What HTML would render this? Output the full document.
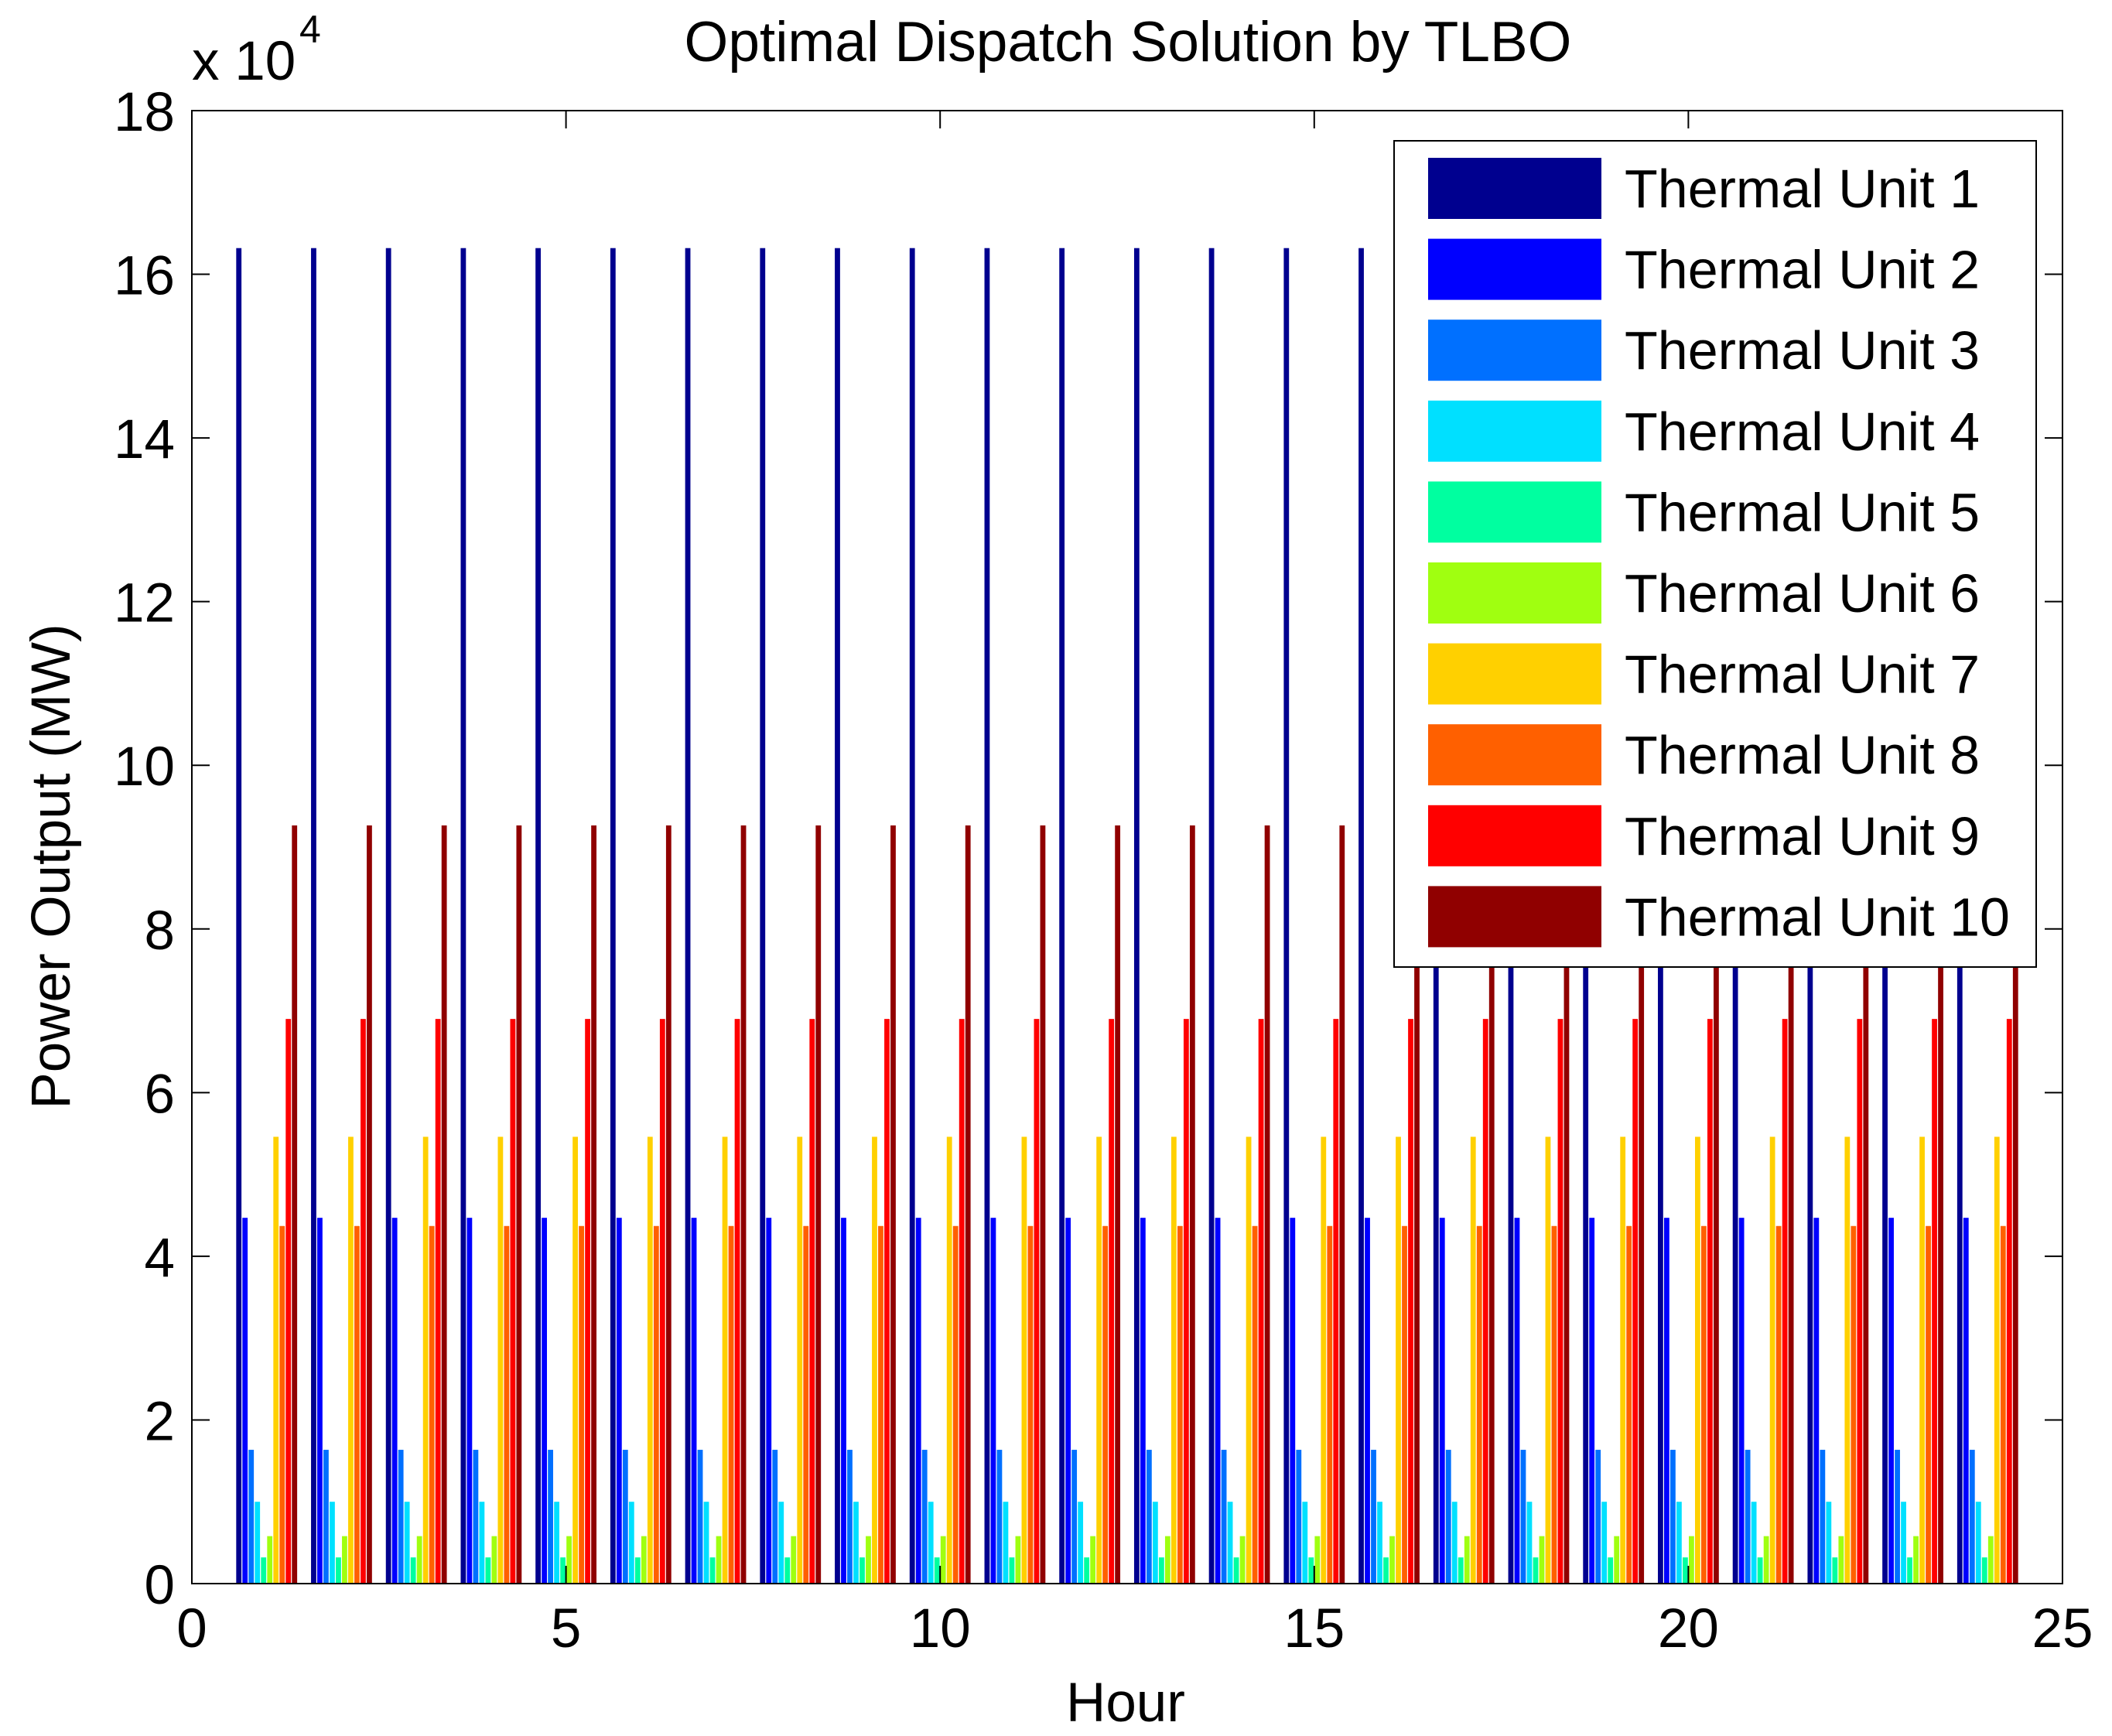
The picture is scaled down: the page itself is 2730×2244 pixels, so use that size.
<!DOCTYPE html>
<html><head><meta charset="utf-8"><style>
html,body{margin:0;padding:0;background:#fff;}
svg{display:block;font-family:"Liberation Sans",Arial,sans-serif;}
</style></head><body>
<svg id="chart" width="2730" height="2244" viewBox="0 0 2730 2244" xmlns="http://www.w3.org/2000/svg">
<rect width="2730" height="2244" fill="#fff"/>
<g id="bars"></g>
<g id="axes"></g>
<g id="legend"></g>
</svg>
<script>
const hours = [1,2,3,4,5,6,7,8,9,10,11,12,13,14,15,16,17,18,19,20,21,22,23,24];
const unitNames = ["Thermal Unit 1","Thermal Unit 2","Thermal Unit 3","Thermal Unit 4","Thermal Unit 5","Thermal Unit 6","Thermal Unit 7","Thermal Unit 8","Thermal Unit 9","Thermal Unit 10"];
const unitColors = ["#00008f","#0000ff","#0070ff","#00e0ff","#00ffa0","#a0ff10","#ffd000","#ff6000","#ff0000","#900000"];
// values in units of 10^4 MW
const unit1 = [16.32,16.32,16.32,16.32,16.32,16.32,16.32,16.32,16.32,16.32,16.32,16.32,16.32,16.32,16.32,16.32,16.32,16.32,16.32,16.32,16.32,16.32,16.32,16.32];
const unit2 = [4.47,4.47,4.47,4.47,4.47,4.47,4.47,4.47,4.47,4.47,4.47,4.47,4.47,4.47,4.47,4.47,4.47,4.47,4.47,4.47,4.47,4.47,4.47,4.47];
const unit3 = [1.635,1.635,1.635,1.635,1.635,1.635,1.635,1.635,1.635,1.635,1.635,1.635,1.635,1.635,1.635,1.635,1.635,1.635,1.635,1.635,1.635,1.635,1.635,1.635];
const unit4 = [1.0,1.0,1.0,1.0,1.0,1.0,1.0,1.0,1.0,1.0,1.0,1.0,1.0,1.0,1.0,1.0,1.0,1.0,1.0,1.0,1.0,1.0,1.0,1.0];
const unit5 = [0.32,0.32,0.32,0.32,0.32,0.32,0.32,0.32,0.32,0.32,0.32,0.32,0.32,0.32,0.32,0.32,0.32,0.32,0.32,0.32,0.32,0.32,0.32,0.32];
const unit6 = [0.58,0.58,0.58,0.58,0.58,0.58,0.58,0.58,0.58,0.58,0.58,0.58,0.58,0.58,0.58,0.58,0.58,0.58,0.58,0.58,0.58,0.58,0.58,0.58];
const unit7 = [5.46,5.46,5.46,5.46,5.46,5.46,5.46,5.46,5.46,5.46,5.46,5.46,5.46,5.46,5.46,5.46,5.46,5.46,5.46,5.46,5.46,5.46,5.46,5.46];
const unit8 = [4.37,4.37,4.37,4.37,4.37,4.37,4.37,4.37,4.37,4.37,4.37,4.37,4.37,4.37,4.37,4.37,4.37,4.37,4.37,4.37,4.37,4.37,4.37,4.37];
const unit9 = [6.9,6.9,6.9,6.9,6.9,6.9,6.9,6.9,6.9,6.9,6.9,6.9,6.9,6.9,6.9,6.9,6.9,6.9,6.9,6.9,6.9,6.9,6.9,6.9];
const unit10 = [9.265,9.265,9.265,9.265,9.265,9.265,9.265,9.265,9.265,9.265,9.265,9.265,9.265,9.265,9.265,9.265,9.265,9.265,9.265,9.265,9.265,9.265,9.265,9.265];
const xTicks = [0,5,10,15,20,25];
const yTicks = [0,2,4,6,8,10,12,14,16,18];

const NS = "http://www.w3.org/2000/svg";
const L = 248, R = 2666, T = 143, B = 2047;
const xMin = 0, xMax = 25, yMin = 0, yMax = 18;
function xs(v){ return L + (v - xMin) / (xMax - xMin) * (R - L); }
function ys(v){ return B - (v - yMin) / (yMax - yMin) * (B - T); }
function mk(tag, attrs, parent){ const e = document.createElementNS(NS, tag); for (const k in attrs) e.setAttribute(k, attrs[k]); parent.appendChild(e); return e; }

const series = [unit1,unit2,unit3,unit4,unit5,unit6,unit7,unit8,unit9,unit10];
const barsG = document.getElementById('bars');
const slot = 0.0827;
const bw = slot * 0.85;
series.forEach((vals, s) => {
  vals.forEach((v, i) => {
    const cx = hours[i] + (s - 4.5) * slot;
    const x0 = xs(cx - bw / 2), x1 = xs(cx + bw / 2);
    const r = mk('rect', {x: x0, y: ys(v), width: x1 - x0, height: ys(0) - ys(v), fill: unitColors[s]}, barsG);
    
    
  });
});

const ax = document.getElementById('axes');
const frame = mk('rect', {x: L, y: T, width: R - L, height: B - T, fill: 'none', stroke: '#000', 'stroke-width': 2}, ax);


xTicks.forEach(t => {
  const x = xs(t);
  mk('line', {x1: x, y1: B, x2: x, y2: B - 23, stroke: '#000', 'stroke-width': 2}, ax);
  mk('line', {x1: x, y1: T, x2: x, y2: T + 23, stroke: '#000', 'stroke-width': 2}, ax);
  const tx = mk('text', {x: x, y: 2129, 'font-size': 71, 'text-anchor': 'middle'}, ax);
  tx.textContent = t;
  
  
});
yTicks.forEach(t => {
  const y = ys(t);
  mk('line', {x1: L, y1: y, x2: L + 23, y2: y, stroke: '#000', 'stroke-width': 2}, ax);
  mk('line', {x1: R, y1: y, x2: R - 23, y2: y, stroke: '#000', 'stroke-width': 2}, ax);
  const tx = mk('text', {x: 226, y: y + 26, 'font-size': 71, 'text-anchor': 'end'}, ax);
  tx.textContent = t;
  
  
});
const title = mk('text', {x: 1458, y: 79, 'font-size': 73, 'text-anchor': 'middle'}, ax);
title.textContent = 'Optimal Dispatch Solution by TLBO';


const xl = mk('text', {x: 1455, y: 2225, 'font-size': 71, 'text-anchor': 'middle'}, ax);
xl.textContent = 'Hour';


const yl = mk('text', {x: 0, y: 0, 'font-size': 71, 'text-anchor': 'middle', transform: 'translate(90,1120) rotate(-90)'}, ax);
yl.textContent = 'Power Output (MW)';


const ex = mk('text', {x: 248, y: 103, 'font-size': 71}, ax);
ex.textContent = 'x 10';


const ex2 = mk('text', {x: 387, y: 55, 'font-size': 50}, ax);
ex2.textContent = '4';



const lg = document.getElementById('legend');
const lbox = mk('rect', {x: 1802, y: 182, width: 830, height: 1068, fill: '#fff', stroke: '#000', 'stroke-width': 2}, lg);


unitNames.forEach((n, i) => {
  const y0 = 204 + i * 104.6;
  const sw = mk('rect', {x: 1846, y: y0, width: 224, height: 79, fill: unitColors[i]}, lg);
  
  
  const t = mk('text', {x: 2100, y: y0 + 64, 'font-size': 70}, lg);
  t.textContent = n;
  
  
});
</script>
</body></html>
